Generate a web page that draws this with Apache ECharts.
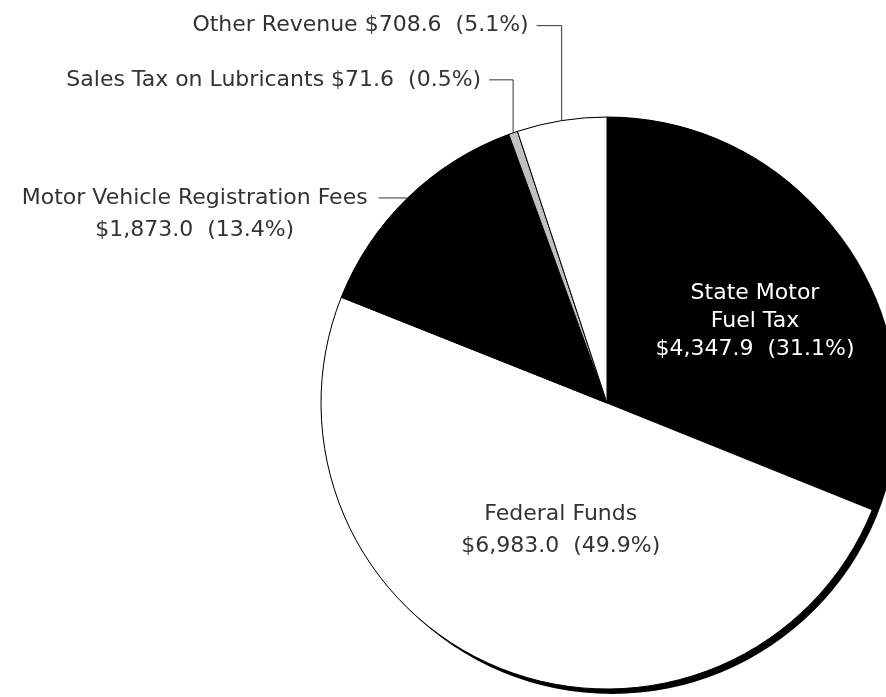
<!DOCTYPE html>
<html>
<head>
<meta charset="utf-8">
<script src="https://cdn.jsdelivr.net/npm/echarts@6/dist/echarts.min.js"></script>
<style>
  html, body { margin: 0; padding: 0; background: #fff; }
  #chart { width: 886px; height: 697px; }
</style>
</head>
<body>
<div id="chart"></div>
<script>
// revenue sources, millions of dollars
const names = [
    'State Motor Fuel Tax',
    'Federal Funds',
    'Motor Vehicle Registration Fees',
    'Sales Tax on Lubricants',
    'Other Revenue'
];
const labelNames = [
    'State Motor\nFuel Tax\n',
    'Federal Funds\n',
    'Motor Vehicle Registration Fees\n',
    'Sales Tax on Lubricants ',
    'Other Revenue '
];
const values = [4347.9, 6983.0, 1873.0, 71.6, 708.6];
const colors = ['#000000', '#ffffff', '#000000', '#c0c0c0', '#ffffff'];

const total = values.reduce((s, v) => s + v, 0);

// leader line shape for the outside labels (vertical rise, then horizontal run)
const leaders = {
    'Other Revenue': { rise: 95, run: 25, gap: 8 },
    'Sales Tax on Lubricants': { rise: 53, run: 24, gap: 8 },
    'Motor Vehicle Registration Fees': { rise: 0, run: 29, gap: 11, center: true }
};
// nudges for the inside labels
const insideShift = {
    'State Motor Fuel Tax': [27, 0],
    'Federal Funds': [8, -8]
};

let chartDom = document.getElementById('chart');
let myChart = echarts.init(chartDom, null, { renderer: 'canvas' });

const fmt = (v) => v.toLocaleString('en-US', { minimumFractionDigits: 1, maximumFractionDigits: 1 });

const pieData = names.map((n, i) => {
    const inside = !!insideShift[n];
    return {
        name: n,
        value: values[i],
        itemStyle: { color: colors[i] },
        label: {
            position: inside ? 'inside' : 'outside',
            color: i === 0 ? '#ffffff' : '#333333',
            lineHeight: i === 0 ? 28 : 32
        },
        labelLine: { show: !inside }
    };
});

myChart.setOption({
    backgroundColor: '#ffffff',
    animation: false,
    series: [
        {
            // drop shadow under the whole pie
            type: 'pie',
            silent: true,
            center: [607, 403],
            radius: 286,
            label: { show: false },
            labelLine: { show: false },
            itemStyle: {
                color: '#000',
                shadowColor: '#000',
                shadowBlur: 0,
                shadowOffsetX: 5,
                shadowOffsetY: 5
            },
            data: [{ value: total }]
        },
        {
            type: 'pie',
            center: [607, 403],
            radius: 286,
            startAngle: 90,
            clockwise: true,
            avoidLabelOverlap: false,
            itemStyle: {
                borderColor: '#000',
                borderWidth: 1
            },
            label: {
                show: true,
                fontFamily: 'DejaVu Sans',
                fontSize: 22,
                align: 'center',
                formatter: (p) => labelNames[p.dataIndex] + '$' + fmt(p.value) + '  (' + p.percent.toFixed(1) + '%)'
            },
            labelLine: {
                show: true,
                length: 10,
                length2: 10,
                smooth: false,
                lineStyle: { color: '#333', width: 1 }
            },
            labelLayout: function (p) {
                const n = names[p.dataIndex];
                if (insideShift[n]) {
                    return { dx: insideShift[n][0], dy: insideShift[n][1] };
                }
                const lead = leaders[n];
                const a = p.labelLinePoints[0];
                const yLine = a[1] - lead.rise;
                const xEnd = a[0] - lead.run;
                const pts = lead.rise > 0
                    ? [[a[0], a[1]], [a[0], yLine], [xEnd, yLine]]
                    : [[a[0], a[1]], [xEnd, yLine]];
                if (lead.center) {
                    return {
                        x: xEnd - lead.gap - p.labelRect.width / 2,
                        y: yLine - 16,
                        align: 'center',
                        verticalAlign: 'top',
                        labelLinePoints: pts
                    };
                }
                return {
                    x: xEnd - lead.gap,
                    y: yLine,
                    align: 'right',
                    verticalAlign: 'middle',
                    labelLinePoints: pts
                };
            },
            data: pieData
        }
    ]
});
</script>
</body>
</html>
